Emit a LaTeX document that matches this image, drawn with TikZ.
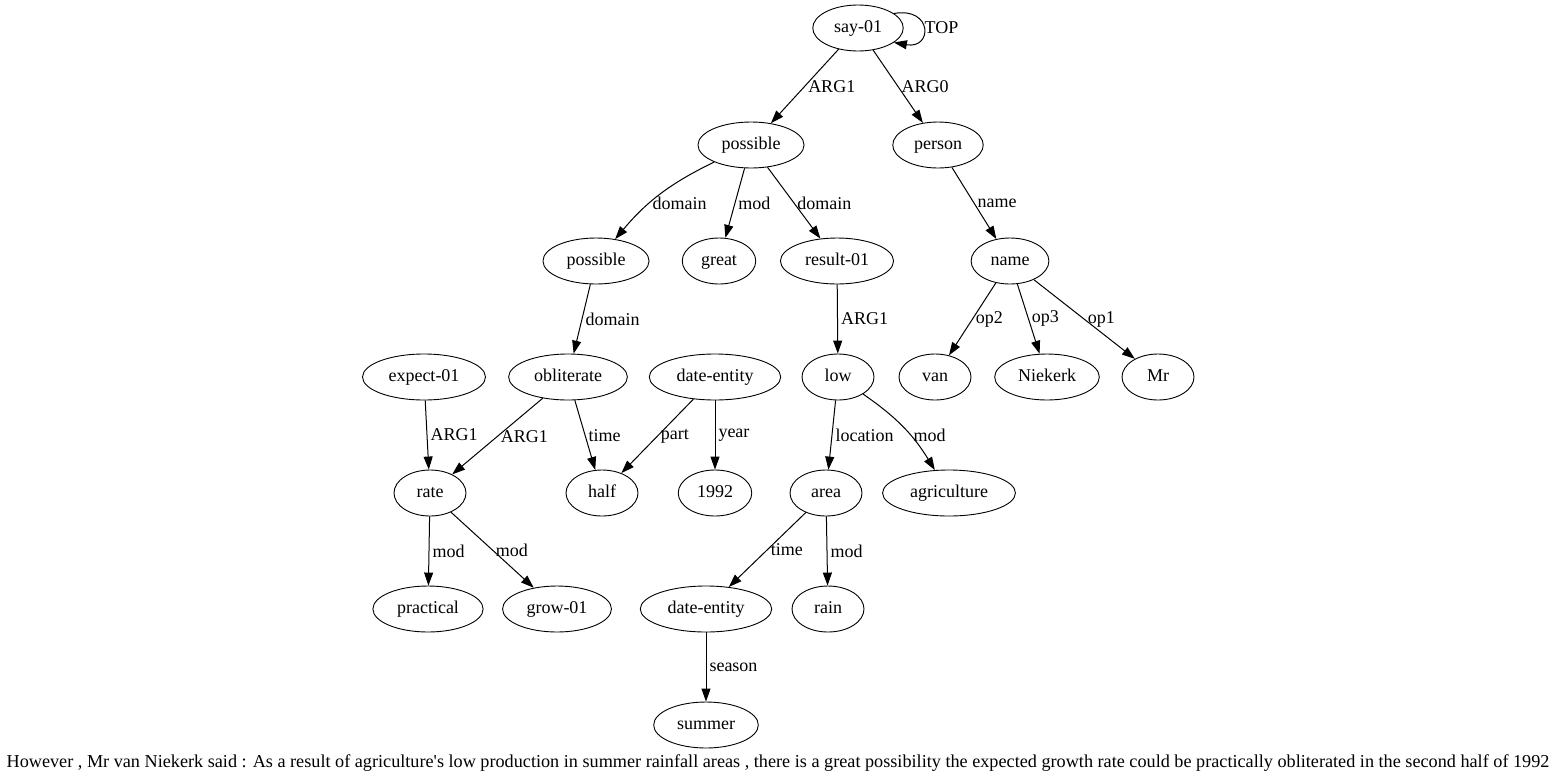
\documentclass[tikz,border=0pt]{standalone}
\usepackage{fontspec}
\setmainfont{Liberation Serif}
\usetikzlibrary{shapes.geometric,arrows.meta}

\tikzset{
  amr/.style={draw, line width=0.9pt, ellipse, minimum width=72pt, minimum height=46pt, inner xsep=8pt, inner ysep=1pt, text height=12pt, text depth=4pt},
  rel/.style={line width=1pt, -{Triangle[length=13pt,width=9pt]}},
  lbl/.style={anchor=west, inner xsep=3pt, inner ysep=1pt, pos=0.5},
}

\begin{document}
\begin{tikzpicture}[x=1pt, y=-1pt, every node/.style={font=\fontsize{18}{20}\selectfont}]
    \useasboundingbox (0,0) rectangle (1559,780);

    % Knoten
    \node[amr] (say01) at (858,28) {say-01};
    \node[amr] (possA) at (751,145) {possible};
    \node[amr] (person) at (938,145) {person};
    \node[amr] (possB) at (596,261) {possible};
    \node[amr] (great) at (719,261) {great};
    \node[amr] (result) at (837,261) {result-01};
    \node[amr] (name) at (1010,261) {name};
    \node[amr] (expect) at (424,377) {expect-01};
    \node[amr] (oblit) at (568,377) {obliterate};
    \node[amr] (dateA) at (715,377) {date-entity};
    \node[amr] (low) at (838,377) {low};
    \node[amr] (van) at (935,377) {van};
    \node[amr] (niek) at (1047,377) {Niekerk};
    \node[amr] (mr) at (1158,377) {Mr};
    \node[amr] (rate) at (430,493) {rate};
    \node[amr] (half) at (602,493) {half};
    \node[amr] (year) at (715,493) {1992};
    \node[amr] (area) at (826,493) {area};
    \node[amr] (agri) at (949,493) {agriculture};
    \node[amr] (pract) at (428,609) {practical};
    \node[amr] (grow) at (557,609) {grow-01};
    \node[amr] (dateB) at (706,609) {date-entity};
    \node[amr] (rain) at (828,609) {rain};
    \node[amr] (summer) at (706,725) {summer};

    % Kanten
    \draw[rel] (say01.22) to[out=10, in=-10, looseness=3.5] node[lbl, inner xsep=1pt] {TOP} (say01.-22);
    \draw[rel] (say01) -- node[lbl] {ARG1} (possA);
    \draw[rel] (say01) -- node[lbl] {ARG0} (person);
    \draw[rel] (possA) to[bend right=12] node[lbl, pos=0.62] {domain} (possB);
    \draw[rel] (possA) -- node[lbl] {mod} (great);
    \draw[rel] (possA) -- node[lbl] {domain} (result);
    \draw[rel] (person) -- node[lbl] {name} (name);
    \draw[rel] (possB) -- node[lbl] {domain} (oblit);
    \draw[rel] (result) -- node[lbl] {ARG1} (low);
    \draw[rel] (name) -- node[lbl] {op2} (van);
    \draw[rel] (name) -- node[lbl] {op3} (niek);
    \draw[rel] (name) -- node[lbl] {op1} (mr);
    \draw[rel] (expect) -- node[lbl] {ARG1} (rate);
    \draw[rel] (oblit) -- node[lbl] {ARG1} (rate);
    \draw[rel] (oblit) -- node[lbl] {time} (half);
    \draw[rel] (dateA) -- node[lbl] {part} (half);
    \draw[rel] (dateA) -- node[lbl] {year} (year);
    \draw[rel] (low) -- node[lbl] {location} (area);
    \draw[rel] (low) to[bend left=12] node[lbl, pos=0.6] {mod} (agri);
    \draw[rel] (rate) -- node[lbl] {mod} (pract);
    \draw[rel] (rate) -- node[lbl] {mod} (grow);
    \draw[rel] (area) -- node[lbl] {time} (dateB);
    \draw[rel] (area) -- node[lbl] {mod} (rain);
    \draw[rel] (dateB) -- node[lbl] {season} (summer);

    \node[font=\fontsize{18.2}{20}\selectfont] (sent) at (778,763) {However , Mr van Niekerk said : As a result of agriculture\textquotesingle s low production in summer rainfall areas , there is a great possibility the expected growth rate could be practically obliterated in the second half of 1992};
\end{tikzpicture}
\end{document}
